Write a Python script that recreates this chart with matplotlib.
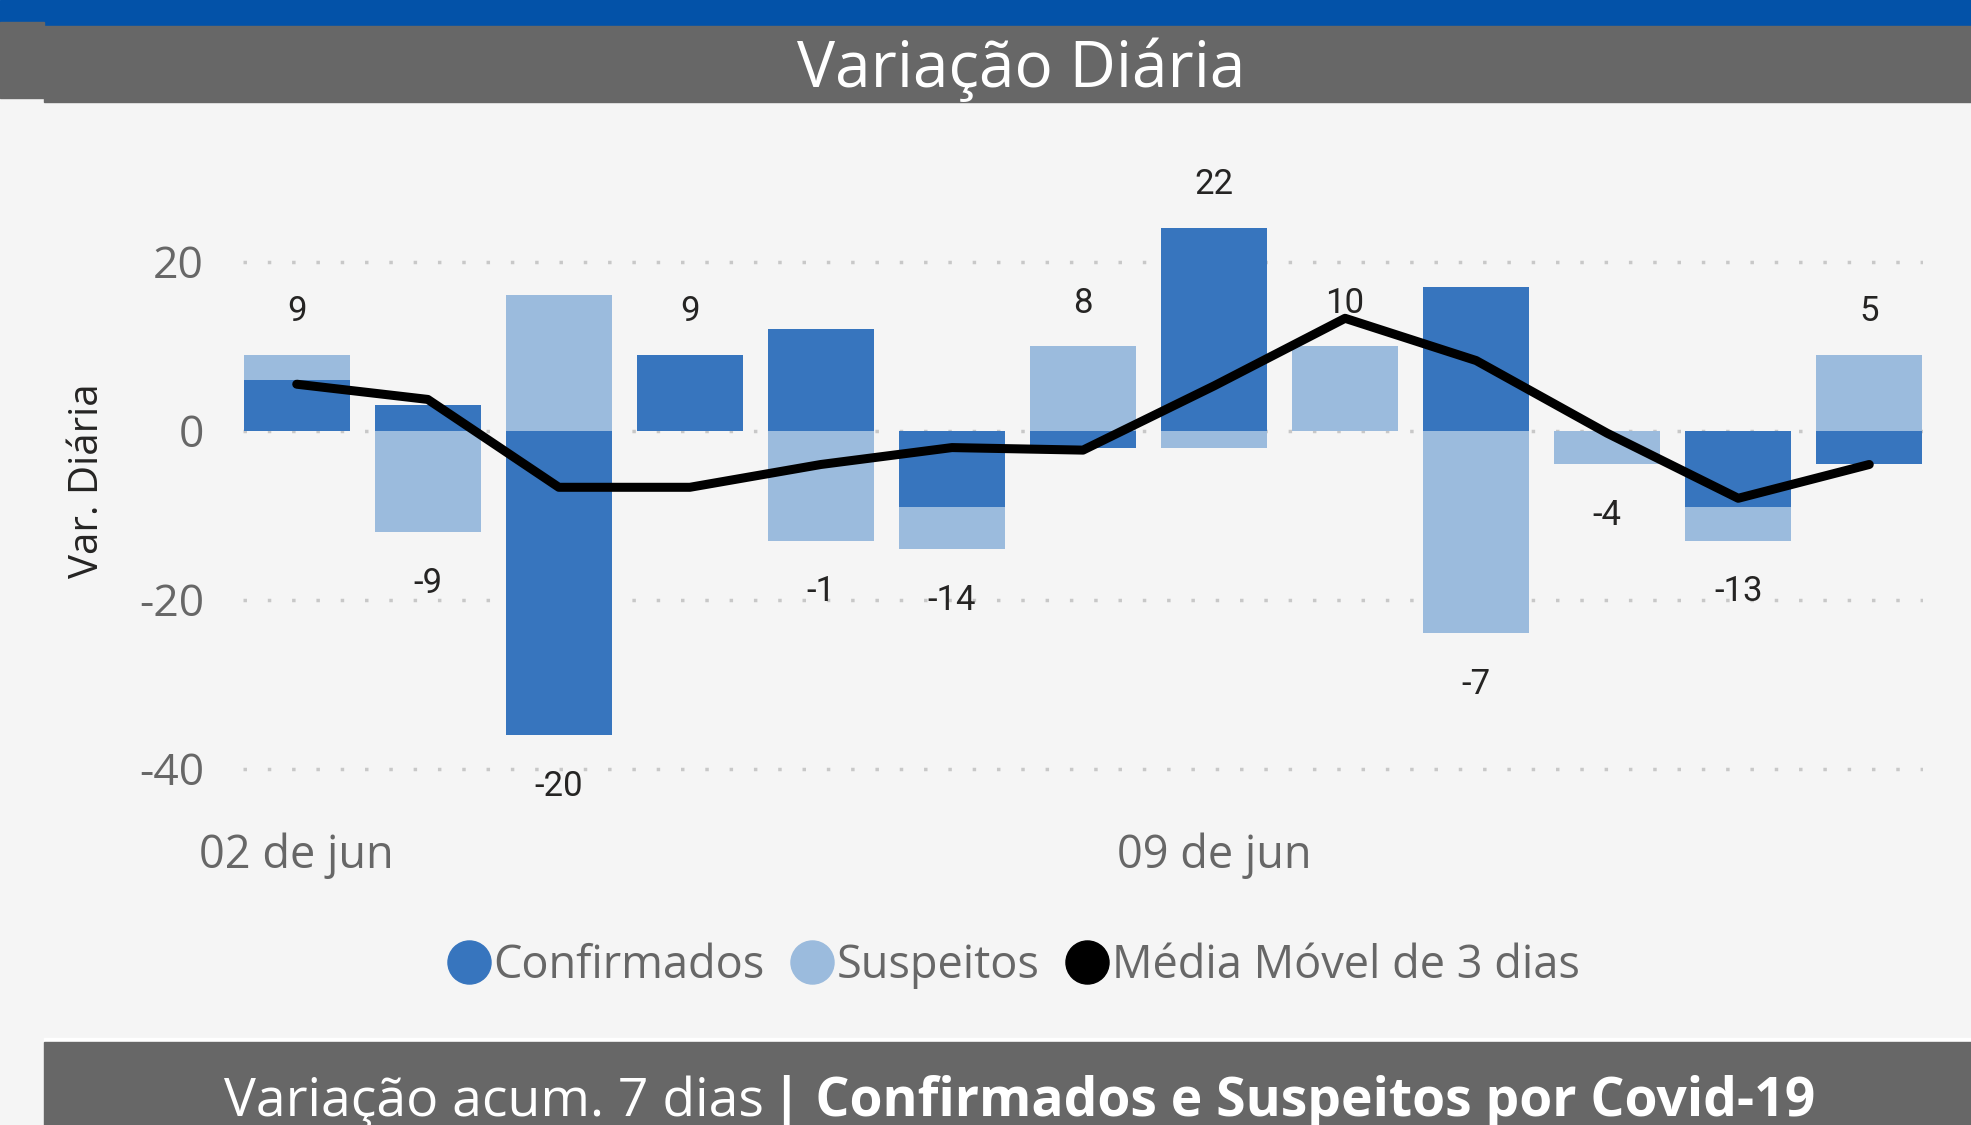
import matplotlib.pyplot as plt
from matplotlib.lines import Line2D
from matplotlib.patches import Rectangle

# daily values
dias = ["02 de jun", "03 de jun", "04 de jun", "05 de jun", "06 de jun", "07 de jun", "08 de jun",
        "09 de jun", "10 de jun", "11 de jun", "12 de jun", "13 de jun", "14 de jun"]
confirmados = [6, 3, -36, 9, 12, -9, -2, 24, 0, 17, 0, -9, -4]
suspeitos = [3, -12, 16, 0, -13, -5, 10, -2, 10, -24, -4, -4, 9]
totais = [9, -9, -20, 9, -1, -14, 8, 22, 10, -7, -4, -13, 5]
media_movel = [5.5, 3.7, -6.7, -6.7, -4.0, -2.0, -2.3, 5.3, 13.3, 8.3, -0.3, -8.0, -4.0]
xtick_pos = [0, 7]
yticks = [-40, -20, 0, 20]

AZUL = "#3775be"
AZUL_CLARO = "#9bbbdd"
CINZA = "#676767"
FUNDO = "#f5f5f5"
FONTE = ["Open Sans", "DejaVu Sans"]

fig = plt.figure(figsize=(19.71, 11.25), dpi=100)
fig.patch.set_facecolor(FUNDO)

# header / footer bands
W, H = 1971, 1125
def faixa(x0, y0, x1, y1, cor):
    fig.patches.append(Rectangle((x0 / W, 1 - y1 / H), (x1 - x0) / W, (y1 - y0) / H,
                                 transform=fig.transFigure, color=cor, zorder=0))
faixa(0, 0, W, 26, "#0352a8")
faixa(0, 22, 44, 98, CINZA)
faixa(44, 26, W, 102, CINZA)
faixa(44, 1038, W, 1042, "white")
faixa(44, 1042, W, H, CINZA)

fig.text(1021 / W, 1 - 70 / H, "Variação Diária", color="white", fontsize=46,
         family=FONTE, ha="center", va="center")

ax = fig.add_axes([243 / W, 1 - 805 / H, (1923 - 243) / W, (805 - 151) / H])
ax.set_facecolor(FUNDO)
x = list(range(len(dias)))

# stacked: positive parts upward, negative parts downward
base_pos = [0] * len(x)
base_neg = [0] * len(x)
for serie, cor in [(confirmados, AZUL), (suspeitos, AZUL_CLARO)]:
    bottoms = [base_pos[i] if v >= 0 else base_neg[i] for i, v in enumerate(serie)]
    ax.bar(x, serie, bottom=bottoms, width=0.81, color=cor, zorder=2)
    for i, v in enumerate(serie):
        if v >= 0:
            base_pos[i] += v
        else:
            base_neg[i] += v

ax.plot(x, media_movel, color="black", lw=6.5, solid_capstyle="round",
        solid_joinstyle="round", zorder=3)

for i, t in enumerate(totais):
    if t >= 0:
        ax.annotate(str(t), (i, base_pos[i]), xytext=(0, 31), textcoords="offset points",
                    ha="center", va="center", fontsize=25, color="#252423", family="Roboto")
    else:
        ax.annotate(str(t), (i, base_neg[i]), xytext=(0, -37), textcoords="offset points",
                    ha="center", va="center", fontsize=25, color="#252423", family="Roboto")

ax.set_xlim(-0.41, 12.41)
ax.set_ylim(-44.3, 33.1)
ax.set_yticks(yticks)
ax.set_yticklabels([str(v) for v in yticks], family=FONTE)
ax.set_xticks(xtick_pos)
ax.set_xticklabels([dias[i] for i in xtick_pos], family=FONTE)
ax.tick_params(axis="y", length=0, pad=28, labelsize=32, labelcolor=CINZA)
ax.tick_params(axis="x", length=0, pad=20, labelsize=32.5, labelcolor=CINZA)
ax.grid(axis="y", color="#c8c8c8", lw=2.5, linestyle=(0, (1, 6)), zorder=1)
for s in ax.spines.values():
    s.set_visible(False)

fig.text(88 / W, 1 - 481 / H, "Var. Diária", rotation=90, color="#252423",
         fontsize=29, family=FONTE, ha="center", va="center")

handles = [Line2D([], [], ls="none", marker="o", ms=31, color=c)
           for c in (AZUL, AZUL_CLARO, "black")]
leg = fig.legend(handles, ["Confirmados", "Suspeitos", "Média Móvel de 3 dias"],
                 loc="center", bbox_to_anchor=(1012 / W, 1 - 966 / H), ncol=3,
                 frameon=False, handletextpad=0.0, columnspacing=0.5, handlelength=1.1,
                 prop={"family": FONTE, "size": 32.5})
for t in leg.get_texts():
    t.set_color(CINZA)

# footer: regular part + bold part, centered together
yb = 1 - 1102 / H
t1 = fig.text(0, yb, "Variação acum. 7 dias", color="white", fontsize=38.5,
              family=FONTE, ha="left", va="center")
t2 = fig.text(0, yb, "| Confirmados e Suspeitos por Covid-19", color="white", fontsize=38.5,
              family=FONTE, weight="bold", ha="left", va="center")
r = fig.canvas.get_renderer()
w1 = t1.get_window_extent(r).width / W
w2 = t2.get_window_extent(r).width / W
gap = 8 / W
x0 = 1020 / W - (w1 + gap + w2) / 2
t1.set_x(x0)
t2.set_x(x0 + w1 + gap)

fig.savefig("out.png", dpi=100, facecolor=FUNDO)
